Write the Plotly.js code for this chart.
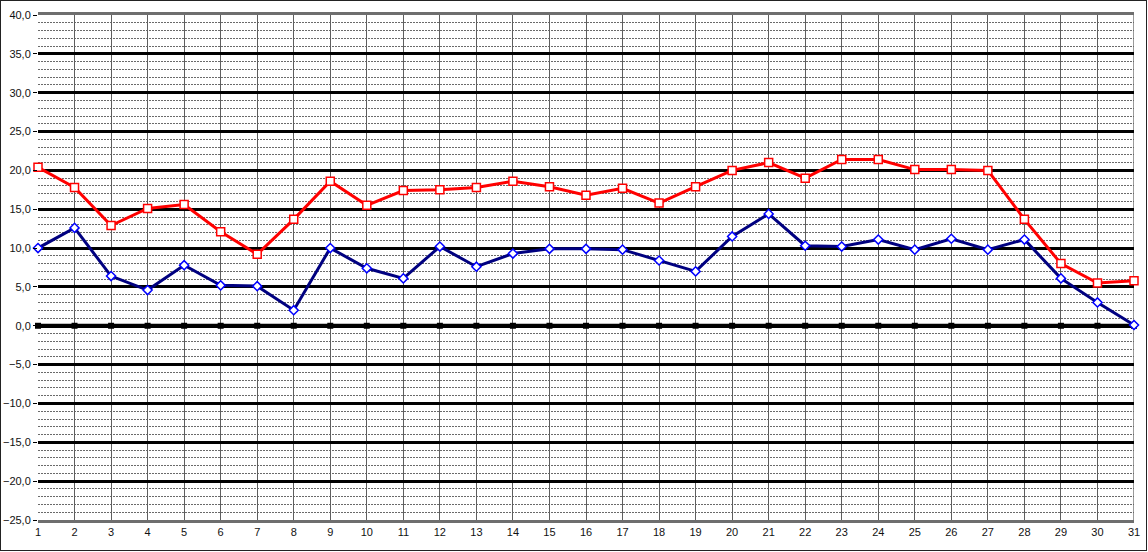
<!DOCTYPE html>
<html>
<head>
<meta charset="utf-8">
<script src="https://cdn.plot.ly/plotly-3.0.1.min.js"></script>
<style>
html,body{margin:0;padding:0;background:#fff;}
#wrap{position:relative;width:1148px;height:552px;}
#chart{position:absolute;left:0;top:0;width:1148px;height:552px;}
#frame{position:absolute;left:0;top:0;width:1145px;height:549px;border:1px solid #222;pointer-events:none;}
</style>
</head>
<body>
<div id="wrap"><div id="chart"></div><div id="frame"></div></div>
<script>
var days = [1,2,3,4,5,6,7,8,9,10,11,12,13,14,15,16,17,18,19,20,21,22,23,24,25,26,27,28,29,30,31];
var redValues = [20.4,17.8,12.9,15.1,15.6,12.1,9.2,13.7,18.6,15.5,17.4,17.5,17.8,18.6,17.9,16.8,17.7,15.8,17.9,20.0,21.0,19.0,21.4,21.4,20.1,20.1,20.0,13.7,8.0,5.5,5.8];
var blueValues = [10.0,12.6,6.4,4.6,7.8,5.2,5.1,2.0,10.0,7.4,6.1,10.2,7.6,9.3,9.9,9.9,9.8,8.4,7.0,11.5,14.4,10.3,10.2,11.1,9.8,11.2,9.8,11.1,6.1,3.0,0.1];
var zeroValues = [0,0,0,0,0,0,0,0,0,0,0,0,0,0,0,0,0,0,0,0,0,0,0,0,0,0,0,0,0,0,0];
var yTicks = [40,35,30,25,20,15,10,5,0,-5,-10,-15,-20,-25];

var traces = [
  {x: days, y: zeroValues, type: 'scatter', mode: 'lines+markers', cliponaxis: false,
   line: {color: '#000000', width: 4},
   marker: {symbol: 'square', size: 6, color: '#000000'}},
  {x: days, y: blueValues, type: 'scatter', mode: 'lines+markers', cliponaxis: false,
   line: {color: '#000080', width: 3},
   marker: {symbol: 'diamond', size: 7, color: '#ffffff', line: {color: '#0000ff', width: 1.5}}},
  {x: days, y: redValues, type: 'scatter', mode: 'lines+markers', cliponaxis: false,
   line: {color: '#ff0000', width: 3},
   marker: {symbol: 'square', size: 8, color: '#ffffff', line: {color: '#ff0000', width: 1.5}}}
];

var layout = {
  width: 1148, height: 552,
  margin: {l: 38, r: 14, t: 15, b: 32, pad: 0},
  paper_bgcolor: '#ffffff', plot_bgcolor: '#ffffff',
  showlegend: false,
  separators: ', ',
  font: {family: 'Liberation Sans, Arial, sans-serif', size: 11, color: '#111'},
  xaxis: {
    type: 'linear', range: [1, 31], tickmode: 'array', tickvals: days, ticktext: days.map(String),
    showgrid: true, gridcolor: '#5e5e5e', gridwidth: 1,
    zeroline: false, showline: true, linecolor: '#6e6e6e', linewidth: 3, mirror: true,
    ticks: '', ticklen: 0, tickfont: {size: 11, color: '#111'}
  },
  yaxis: {
    range: [-25, 40], tickmode: 'array', tickvals: yTicks, tickformat: '.1f',
    showgrid: true, gridcolor: '#000000', gridwidth: 3,
    zeroline: true, zerolinecolor: '#000000', zerolinewidth: 4,
    showline: false,
    ticks: 'outside', ticklen: 4, tickcolor: '#000', tickwidth: 1,
    tickfont: {size: 11, color: '#111'},
    minor: {dtick: 1, tick0: 0, showgrid: true, gridcolor: '#6a6a6a', gridwidth: 1, griddash: '2px,1px', ticks: ''}
  },
  shapes: [
    {type: 'line', xref: 'x', yref: 'paper', x0: 31, x1: 31, y0: 0, y1: 1, line: {color: '#9a9a9a', width: 2}, layer: 'below'}
  ]
};

Plotly.newPlot('chart', traces, layout, {staticPlot: true, displayModeBar: false});
</script>
</body>
</html>
